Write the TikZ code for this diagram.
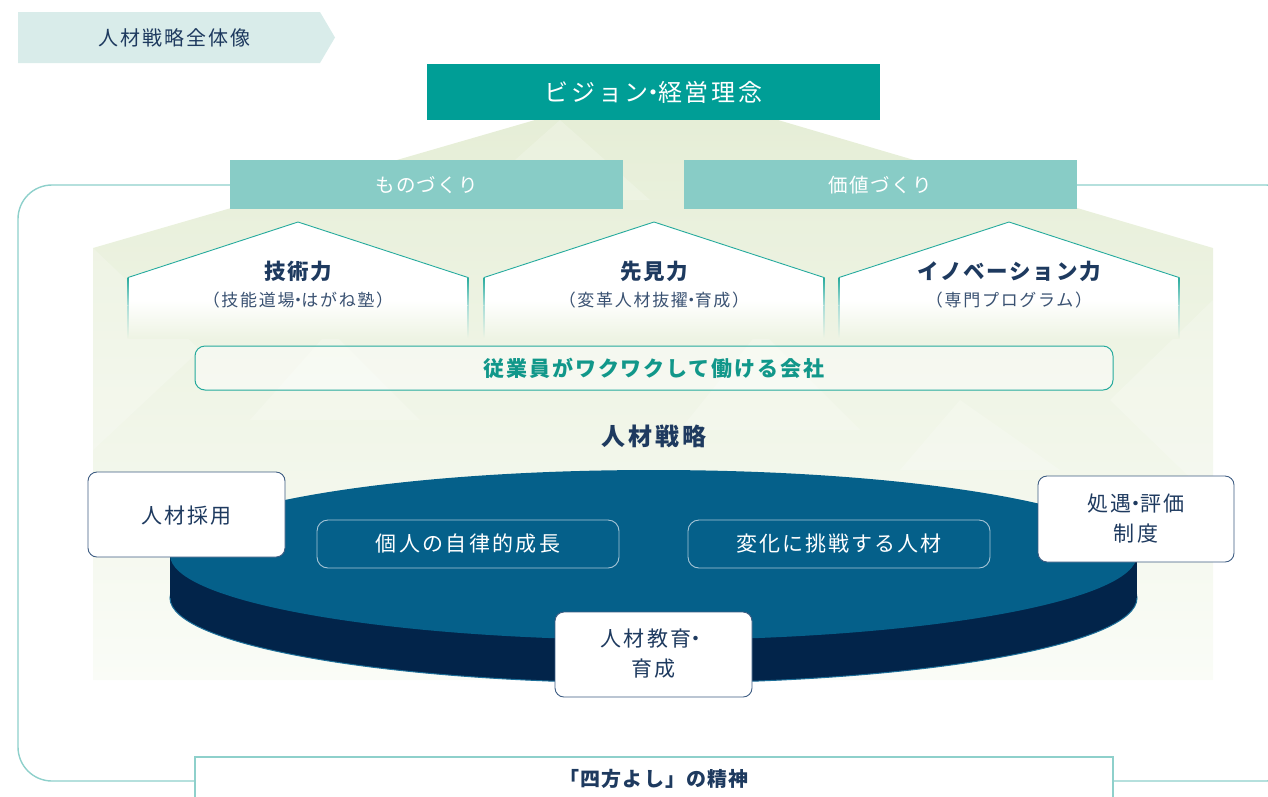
\documentclass[tikz,border=0pt]{standalone}
\usepackage{fontspec}
\setmainfont{Noto Sans CJK JP}
\definecolor{navy}{HTML}{1E3A5F}
\definecolor{tagbg}{HTML}{D9ECEA}
\definecolor{vision}{HTML}{009E96}
\definecolor{pillar}{HTML}{88CCC6}
\definecolor{outl}{HTML}{8ED0CB}
\definecolor{teal}{HTML}{25AA9C}
\definecolor{tealtxt}{HTML}{11978A}
\definecolor{greentop}{HTML}{E6EED7}
\definecolor{greenbot}{HTML}{FAFCF7}
\colorlet{greenmid}{greentop!60!greenbot}
\definecolor{disktop}{HTML}{05608A}
\definecolor{diskside}{HTML}{02244A}
\definecolor{diskrim}{HTML}{1C6E98}
\definecolor{boxline}{HTML}{3D5C82}
\definecolor{pillline}{HTML}{A8C6D8}
\definecolor{subtxt}{HTML}{3A5272}
\newcommand\ndot{\hspace{-0.3em}・\hspace{-0.3em}}
\begin{document}
\begin{tikzpicture}[x=1pt,y=-1pt,
  fs/.style 2 args={font=\fontsize{#1}{#1}\selectfont\addfontfeatures{LetterSpace=#2}},
  fsb/.style 2 args={font=\fontsize{#1}{#1}\selectfont\bfseries\addfontfeatures{LetterSpace=#2}},
  fs2/.style 2 args={font=\fontsize{#1}{30}\selectfont\addfontfeatures{LetterSpace=#2}},
  wbox/.style={draw=boxline, line width=0.9pt, fill=white, rounded corners=9pt},
  pill/.style={draw=pillline, line width=0.9pt, rounded corners=11pt},
  txt/.style={inner sep=0pt, anchor=center}]
\useasboundingbox (0,0) rectangle (1268,796);
\clip (0,0) rectangle (1268,796);

% outer rounded frame
\draw[outl, line width=1.4pt, rounded corners=34pt] (18,185) rectangle (1300,781);

% tag
\fill[tagbg] (18,12) -- (320,12) -- (335,37.5) -- (320,63) -- (18,63) -- cycle;
\node[txt, fs={20}{10}, text=navy] (tag) at (174,38) {人材戦略全体像};

% green background
\shade[top color=greentop, bottom color=greenbot]
  (535,120) -- (778,120) -- (1213,248) -- (1213,680) -- (93,680) -- (93,248) -- cycle;
% faint pattern
\begin{scope}[white, opacity=0.2]
  \fill (93,248) -- (200,350) -- (93,450) -- cycle;
  \fill (330,330) -- (420,420) -- (250,420) -- cycle;
  \fill (560,120) -- (650,200) -- (470,200) -- cycle;
  \fill (760,330) -- (860,430) -- (680,430) -- cycle;
  \fill (1213,300) -- (1110,400) -- (1213,500) -- cycle;
  \fill (960,400) -- (1060,470) -- (900,470) -- cycle;
\end{scope}

% vision
\fill[vision] (427,64) rectangle (880,120);
\node[txt, fs={24}{11}, text=white] (vis) at (653.5,92) {ビジョン\ndot 経営理念};

% pillars
\fill[pillar] (230,160) rectangle (623,209);
\node[txt, fs={19.5}{6}, text=white] (mono) at (426.5,185) {ものづくり};
\fill[pillar] (684,160) rectangle (1077,209);
\node[txt, fs={19.5}{8}, text=white] (kachi) at (880.5,185) {価値づくり};

% houses (white, fading into the background at the bottom)
\foreach \l/\c/\r in {128/298/468, 484/654/824, 839/1009/1179}{
  \fill[white] (\l,300.5) -- (\l,277) -- (\c,222) -- (\r,277) -- (\r,300.5) -- cycle;
  \shade[top color=white, bottom color=greenmid] (\l,300) rectangle (\r,338);
  \draw[teal, line width=0.9pt, line join=miter] (\l,277.5) -- (\c,222) -- (\r,277.5);
  \shade[top color=teal, bottom color=teal!40!white] (\l-0.5,277) rectangle (\l+0.5,305);
  \shade[top color=teal!40!white, bottom color=greenmid] (\l-0.5,305) rectangle (\l+0.5,338);
  \shade[top color=teal, bottom color=teal!40!white] (\r-0.5,277) rectangle (\r+0.5,305);
  \shade[top color=teal!40!white, bottom color=greenmid] (\r-0.5,305) rectangle (\r+0.5,338);
}
\node[txt, fsb={21.5}{8}, text=navy] (h1) at (298,271) {技術力};
\node[txt, fs={17}{10}, text=subtxt] (h1s) at (298,300) {（技能道場\ndot はがね塾）};
\node[txt, fsb={21.5}{8}, text=navy] (h2) at (654,271) {先見力};
\node[txt, fs={17}{10}, text=subtxt] (h2s) at (654,300) {（変革人材抜擢\ndot 育成）};
\node[txt, fsb={21.5}{8}, text=navy] (h3) at (1009,271) {イノベーション力};
\node[txt, fs={17}{10}, text=subtxt] (h3s) at (1009,300) {（専門プログラム）};

% company bar
\draw[teal, line width=1pt, fill=white, fill opacity=0.45, rounded corners=10pt] (195,346) rectangle (1113,390);
\node[txt, fsb={21}{9}, text=tealtxt] (waku) at (654,368) {従業員がワクワクして働ける会社};

% HR strategy title
\node[txt, fsb={24}{12}, text=navy] (jinzai) at (654,436) {人材戦略};

% disk
\fill[diskside, draw=diskrim, line width=1pt] (653.5,598) ellipse [x radius=483.5pt, y radius=85pt];
\fill[diskside] (170,555) rectangle (1137,598);
\fill[disktop] (653.5,555) ellipse [x radius=483.5pt, y radius=85pt];

% pills on disk
\draw[pill] (317,520) rectangle (619,568);
\node[txt, fs={21}{11}, text=white] (p1) at (468,544) {個人の自律的成長};
\draw[pill] (688,520) rectangle (990,568);
\node[txt, fs={21}{10}, text=white] (p2) at (839,544) {変化に挑戦する人材};

% white boxes
\draw[wbox] (88,472) rectangle (285,557);
\node[txt, fs={21}{11}, text=navy] (b1) at (186.5,516) {人材採用};
\draw[wbox] (1038,476) rectangle (1234,562);
\node[txt, fs2={21}{11}, text=navy, align=center] (b2) at (1136,519) {処遇\ndot 評価\\制度};
\draw[wbox] (555,612) rectangle (752,697);
\node[txt, fs2={21}{11}, text=navy, align=center] (b3) at (653.5,654) {人材教育\ndot\\育成};

% bottom box
\draw[outl, line width=1.4pt, fill=white] (195,757) rectangle (1113,810);
\node[txt, fsb={20}{6}, text=navy] (yoshi) at (654,779) {「四方よし」の精神};
\end{tikzpicture}
\end{document}
